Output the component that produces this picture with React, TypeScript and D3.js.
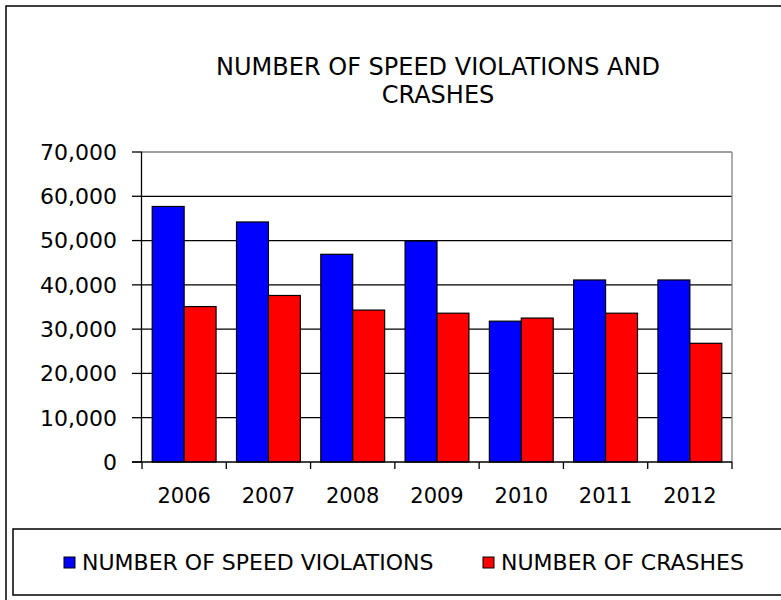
import * as d3 from 'd3';

const years = ['2006', '2007', '2008', '2009', '2010', '2011', '2012'];
const violations = [57700, 54200, 46900, 49900, 31800, 41100, 41100];
const crashes = [35100, 37600, 34300, 33600, 32500, 33600, 26800];
const seriesNames = ['NUMBER OF SPEED VIOLATIONS', 'NUMBER OF CRASHES'];
const seriesColors = ['#0000ff', '#ff0000'];
const yTicks = [0, 10000, 20000, 30000, 40000, 50000, 60000, 70000];

const FONT = '"DejaVu Sans", sans-serif';

export default function App() {
  const width = 781;
  const height = 600;
  const plot = { left: 142, right: 732, top: 152, bottom: 462 };

  const x0 = d3.scaleBand().domain(years).range([plot.left, plot.right]).padding(0);
  const x1 = d3
    .scaleBand()
    .domain(['v', 'c'])
    .range([0, x0.bandwidth()])
    .paddingInner(0)
    .paddingOuter(0.32);
  const y = d3.scaleLinear().domain([0, 70000]).range([plot.bottom, plot.top]);
  const fmt = d3.format(',');

  const rows = years.map((yr, i) => ({ yr, v: violations[i], c: crashes[i] }));

  // legend item positions
  const legendX = [64, 483];

  return (
    <div style={{ position: 'absolute', left: 0, top: 0 }}>
      <svg width={width} height={height} style={{ display: 'block' }} fontFamily={FONT}>
        <rect x={0} y={0} width={width} height={height} fill="#fff" />
        {/* outer frame */}
        <rect x={6} y={6} width={820} height={640} fill="none" stroke="#000" strokeWidth={1.5} />

        {/* title */}
        <text x={438} y={75} textAnchor="middle" fontSize={24} fill="#000">
          NUMBER OF SPEED VIOLATIONS AND
        </text>
        <text x={438} y={103} textAnchor="middle" fontSize={24} fill="#000">
          CRASHES
        </text>

        {/* grid lines */}
        {yTicks.slice(1, -1).map((t) => (
          <line key={t} x1={plot.left} x2={plot.right} y1={y(t)} y2={y(t)} stroke="#000" strokeWidth={1.3} />
        ))}
        {/* plot area border top/right */}
        <line x1={plot.left} x2={plot.right} y1={y(70000)} y2={y(70000)} stroke="#808080" strokeWidth={1.3} />
        <line x1={plot.right} x2={plot.right} y1={plot.top} y2={plot.bottom} stroke="#808080" strokeWidth={1.3} />

        {/* bars */}
        {rows.map((r) => (
          <g key={r.yr} transform={`translate(${x0(r.yr)},0)`}>
            {(['v', 'c'] as const).map((k, j) => (
              <rect
                key={k}
                x={x1(k)}
                y={y(r[k])}
                width={x1.bandwidth()}
                height={y(0) - y(r[k])}
                fill={seriesColors[j]}
                stroke="#000"
                strokeWidth={1.2}
              />
            ))}
          </g>
        ))}

        {/* y axis */}
        <line x1={plot.left - 0.5} x2={plot.left - 0.5} y1={plot.top} y2={plot.bottom} stroke="#000" strokeWidth={1.3} />
        {yTicks.map((t) => (
          <g key={t}>
            <line x1={plot.left - 10} x2={plot.left} y1={y(t)} y2={y(t)} stroke="#000" strokeWidth={1.3} />
            <text x={117} y={y(t)} dy="0.36em" textAnchor="end" fontSize={22} fill="#000">
              {fmt(t)}
            </text>
          </g>
        ))}

        {/* x axis */}
        <line x1={plot.left - 10} x2={plot.right} y1={plot.bottom} y2={plot.bottom} stroke="#000" strokeWidth={1.3} />
        {[...years.map((yr) => x0(yr) as number), plot.right].map((xv, i) => (
          <line key={i} x1={xv} x2={xv} y1={plot.bottom} y2={plot.bottom + 7} stroke="#000" strokeWidth={1.3} />
        ))}
        {years.map((yr) => (
          <text
            key={yr}
            x={(x0(yr) as number) + x0.bandwidth() / 2}
            y={503}
            textAnchor="middle"
            fontSize={21}
            fill="#000"
          >
            {yr}
          </text>
        ))}

        {/* legend */}
        <rect x={13} y={529} width={800} height={66} fill="none" stroke="#000" strokeWidth={1.5} />
        {seriesNames.map((name, i) => (
          <g key={name}>
            <rect x={legendX[i]} y={557} width={11} height={11} fill={seriesColors[i]} stroke="#000" strokeWidth={1} />
            <text x={legendX[i] + 18} y={570} fontSize={22} fill="#000">
              {name}
            </text>
          </g>
        ))}
      </svg>
    </div>
  );
}
